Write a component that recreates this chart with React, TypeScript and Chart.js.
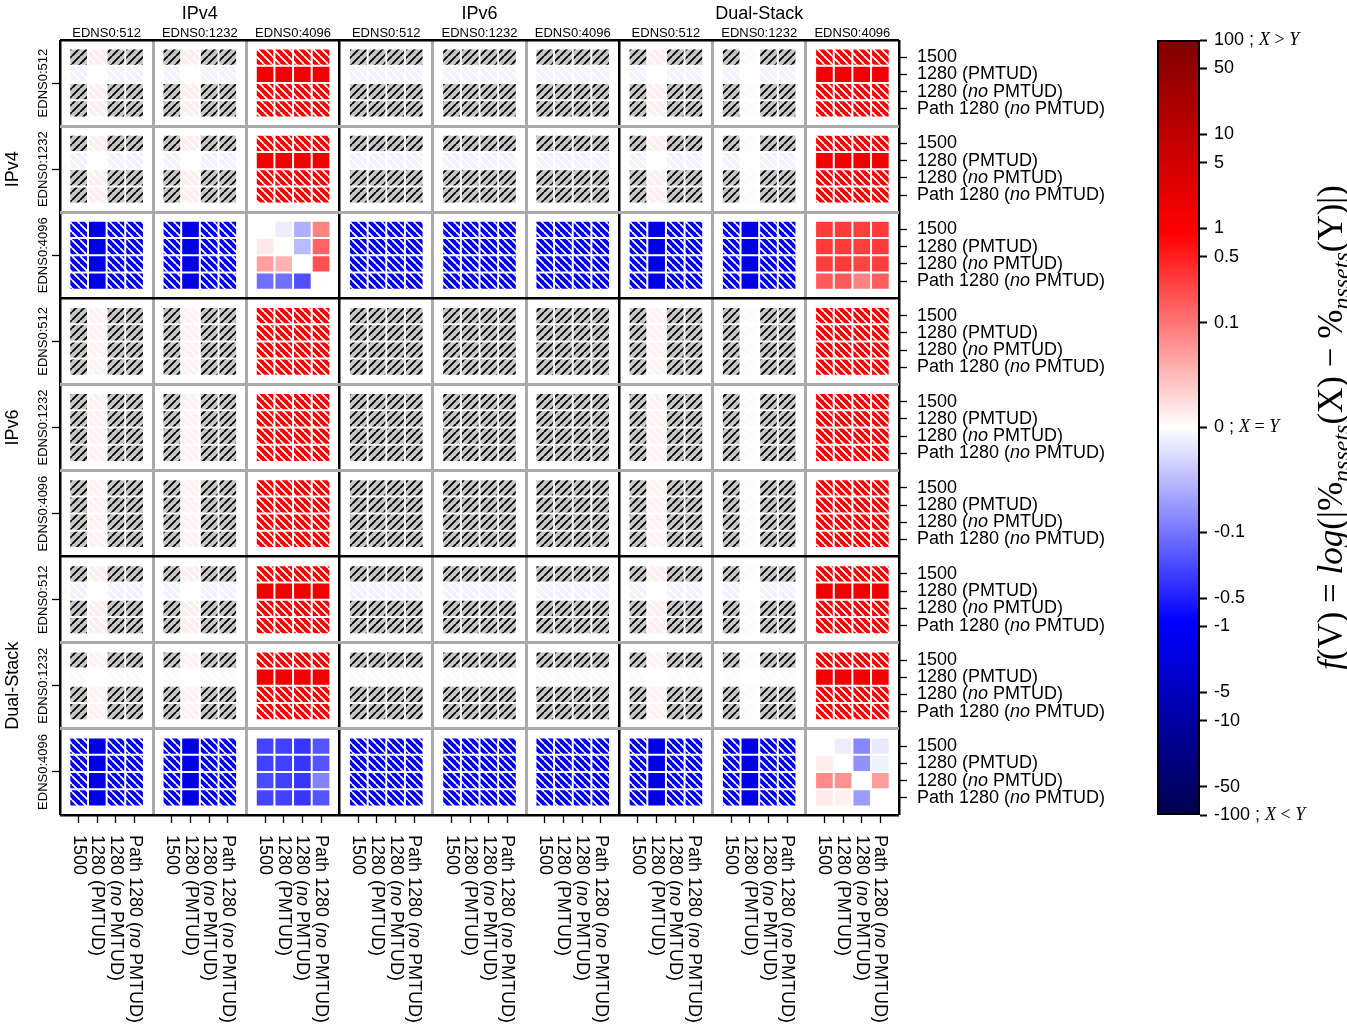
import React, { useEffect, useRef } from 'react';
import { Chart, registerables } from 'chart.js';

Chart.register(...registerables);

const SANS = '"Liberation Sans", Arial, Helvetica, sans-serif';
const SERIF = '"Liberation Serif", "Times New Roman", serif';

// ---------------- data ----------------
const STACKS = ['IPv4', 'IPv6', 'Dual-Stack'];
const EDNS_SIZES = ['EDNS0:512', 'EDNS0:1232', 'EDNS0:4096'];
const MTU_SETTINGS = ['1500', '1280 (PMTUD)', '1280 (no PMTUD)', 'Path 1280 (no PMTUD)'];

// colour-bar ticks (symlog norm)
const CBAR_TICKS = [100, 50, 10, 5, 1, 0.5, 0.1, 0, -0.1, -0.5, -1, -5, -10, -50, -100];
const CBAR_NOTES: Record<string, string[]> = { '100': ['X', '>', 'Y'], '0': ['X', '=', 'Y'], '-100': ['X', '<', 'Y'] };
const LINTHRESH = 0.1;
const LINSCALE = 1;
const VMAX = 100;

// null = no significant difference (grey, '/' hatched)
const _ = null;
// hatch codes: g = grey '/', h = white '\' hatch, s = solid

// rows: IPv4 / EDNS0:512 ; columns: IPv4 512,1232,4096 | IPv6 512,1232,4096 | DS 512,1232,4096
const IPV4_512_VALUES = [
  [_, .012, _, _, _, .012, _, _, .9, .9, .9, .9, _, _, _, _, _, _, _, _, _, _, _, _, _, .012, _, _, _, .004, _, _, .9, .9, .9, .9],
  [-.01, 0, -.01, -.01, -.01, 0, -.01, -.01, 1.5, 1.5, 1.5, 1.5, -.01, -.01, -.01, -.01, -.01, -.01, -.01, -.01, -.01, -.01, -.01, -.01, -.01, 0, -.01, -.01, -.01, 0, -.01, -.01, 1.5, 1.5, 1.5, 1.5],
  [_, .012, _, _, _, .012, _, _, .9, .9, .9, .9, _, _, _, _, _, _, _, _, _, _, _, _, _, .012, _, _, _, .004, _, _, .9, .9, .9, .9],
  [_, .012, _, _, _, .012, _, _, .9, .9, .9, .9, _, _, _, _, _, _, _, _, _, _, _, _, _, .012, _, _, _, .004, _, _, .9, .9, .9, .9],
];
const IPV4_512_HATCH = [
  'ghgg ghgg hhhh gggg gggg gggg ghgg ghgg hhhh',
  'hshh hshh ssss hhhh hhhh hhhh hshh hshh ssss',
  'ghgg ghgg hhhh gggg gggg gggg ghgg ghgg hhhh',
  'ghgg ghgg hhhh gggg gggg gggg ghgg ghgg hhhh',
];

const IPV4_1232_VALUES = [
  [_, .012, _, _, _, .012, _, _, .9, .9, .9, .9, _, _, _, _, _, _, _, _, _, _, _, _, _, .012, _, _, _, .004, _, _, .9, .9, .9, .9],
  [-.01, 0, -.01, -.01, -.01, 0, -.01, -.01, 1.5, 1.5, 1.5, 1.5, -.01, -.01, -.01, -.01, -.01, -.01, -.01, -.01, -.01, -.01, -.01, -.01, -.01, 0, -.01, -.01, -.01, 0, -.01, -.01, 1.5, 1.5, 1.5, 1.5],
  [_, .012, _, _, _, .012, _, _, .9, .9, .9, .9, _, _, _, _, _, _, _, _, _, _, _, _, _, .012, _, _, _, .004, _, _, .9, .9, .9, .9],
  [_, .012, _, _, _, .012, _, _, .9, .9, .9, .9, _, _, _, _, _, _, _, _, _, _, _, _, _, .012, _, _, _, .004, _, _, .9, .9, .9, .9],
];
const IPV4_1232_HATCH = [
  'ghgg ghgg hhhh gggg gggg gggg ghgg ghgg hhhh',
  'hshh hshh ssss hhhh hhhh hhhh hshh hshh ssss',
  'ghgg ghgg hhhh gggg gggg gggg ghgg ghgg hhhh',
  'ghgg ghgg hhhh gggg gggg gggg ghgg ghgg hhhh',
];

const IPV4_4096_VALUES = [
  [-.9, -1.7, -.9, -.9, -.9, -1.7, -.9, -.9, .001, -.013, -.057, .09, -.9, -.9, -.9, -.9, -.9, -.9, -.9, -.9, -.9, -.9, -.9, -.9, -.9, -1.7, -.9, -.9, -.9, -1.7, -.9, -.9, .3, .3, .28, .3],
  [-.9, -1.7, -.9, -.9, -.9, -1.7, -.9, -.9, .017, 0, -.05, .14, -.9, -.9, -.9, -.9, -.9, -.9, -.9, -.9, -.9, -.9, -.9, -.9, -.9, -1.7, -.9, -.9, -.9, -1.7, -.9, -.9, .3, .3, .28, .3],
  [-.9, -1.7, -.9, -.9, -.9, -1.7, -.9, -.9, .07, .055, 0, .2, -.9, -.9, -.9, -.9, -.9, -.9, -.9, -.9, -.9, -.9, -.9, -.9, -.9, -1.7, -.9, -.9, -.9, -1.7, -.9, -.9, .28, .3, .25, .28],
  [-.9, -1.7, -.9, -.9, -.9, -1.7, -.9, -.9, -.11, -.11, -.2, .002, -.9, -.9, -.9, -.9, -.9, -.9, -.9, -.9, -.9, -.9, -.9, -.9, -.9, -1.7, -.9, -.9, -.9, -1.7, -.9, -.9, .17, .17, .09, .16],
];
const IPV4_4096_HATCH = [
  'hshh hshh ssss hhhh hhhh hhhh hshh hshh ssss',
  'hshh hshh ssss hhhh hhhh hhhh hshh hshh ssss',
  'hshh hshh ssss hhhh hhhh hhhh hshh hshh ssss',
  'hshh hshh ssss hhhh hhhh hhhh hshh hshh ssss',
];

const IPV6_512_VALUES = [
  [_, .01, _, _, _, .01, _, _, .9, .9, .9, .9, _, _, _, _, _, _, _, _, _, _, _, _, _, .01, _, _, _, .004, _, _, .9, .9, .9, .9],
  [_, .01, _, _, _, .01, _, _, .9, .9, .9, .9, _, _, _, _, _, _, _, _, _, _, _, _, _, .01, _, _, _, .004, _, _, .9, .9, .9, .9],
  [_, .01, _, _, _, .01, _, _, .9, .9, .9, .9, _, _, _, _, _, _, _, _, _, _, _, _, _, .01, _, _, _, .004, _, _, .9, .9, .9, .9],
  [_, .01, _, _, _, .01, _, _, .9, .9, .9, .9, _, _, _, _, _, _, _, _, _, _, _, _, _, .01, _, _, _, .004, _, _, .9, .9, .9, .9],
];
const IPV6_512_HATCH = [
  'ghgg ghgg hhhh gggg gggg gggg ghgg ghgg hhhh',
  'ghgg ghgg hhhh gggg gggg gggg ghgg ghgg hhhh',
  'ghgg ghgg hhhh gggg gggg gggg ghgg ghgg hhhh',
  'ghgg ghgg hhhh gggg gggg gggg ghgg ghgg hhhh',
];

const IPV6_1232_VALUES = [
  [_, .01, _, _, _, .01, _, _, .9, .9, .9, .9, _, _, _, _, _, _, _, _, _, _, _, _, _, .01, _, _, _, .004, _, _, .9, .9, .9, .9],
  [_, .01, _, _, _, .01, _, _, .9, .9, .9, .9, _, _, _, _, _, _, _, _, _, _, _, _, _, .01, _, _, _, .004, _, _, .9, .9, .9, .9],
  [_, .01, _, _, _, .01, _, _, .9, .9, .9, .9, _, _, _, _, _, _, _, _, _, _, _, _, _, .01, _, _, _, .004, _, _, .9, .9, .9, .9],
  [_, .01, _, _, _, .01, _, _, .9, .9, .9, .9, _, _, _, _, _, _, _, _, _, _, _, _, _, .01, _, _, _, .004, _, _, .9, .9, .9, .9],
];
const IPV6_1232_HATCH = [
  'ghgg ghgg hhhh gggg gggg gggg ghgg ghgg hhhh',
  'ghgg ghgg hhhh gggg gggg gggg ghgg ghgg hhhh',
  'ghgg ghgg hhhh gggg gggg gggg ghgg ghgg hhhh',
  'ghgg ghgg hhhh gggg gggg gggg ghgg ghgg hhhh',
];

const IPV6_4096_VALUES = [
  [_, .01, _, _, _, .01, _, _, .9, .9, .9, .9, _, _, _, _, _, _, _, _, _, _, _, _, _, .01, _, _, _, .004, _, _, .9, .9, .9, .9],
  [_, .01, _, _, _, .01, _, _, .9, .9, .9, .9, _, _, _, _, _, _, _, _, _, _, _, _, _, .01, _, _, _, .004, _, _, .9, .9, .9, .9],
  [_, .01, _, _, _, .01, _, _, .9, .9, .9, .9, _, _, _, _, _, _, _, _, _, _, _, _, _, .01, _, _, _, .004, _, _, .9, .9, .9, .9],
  [_, .01, _, _, _, .01, _, _, .9, .9, .9, .9, _, _, _, _, _, _, _, _, _, _, _, _, _, .01, _, _, _, .004, _, _, .9, .9, .9, .9],
];
const IPV6_4096_HATCH = [
  'ghgg ghgg hhhh gggg gggg gggg ghgg ghgg hhhh',
  'ghgg ghgg hhhh gggg gggg gggg ghgg ghgg hhhh',
  'ghgg ghgg hhhh gggg gggg gggg ghgg ghgg hhhh',
  'ghgg ghgg hhhh gggg gggg gggg ghgg ghgg hhhh',
];

const DS_512_VALUES = [
  [_, .012, _, _, _, .012, _, _, .9, .9, .9, .9, _, _, _, _, _, _, _, _, _, _, _, _, _, .012, _, _, _, .004, _, _, .9, .9, .9, .9],
  [-.01, 0, -.01, -.01, -.01, 0, -.01, -.01, 1.5, 1.5, 1.5, 1.5, -.01, -.01, -.01, -.01, -.01, -.01, -.01, -.01, -.01, -.01, -.01, -.01, -.01, 0, -.01, -.01, -.01, 0, -.01, -.01, 1.5, 1.5, 1.5, 1.5],
  [_, .012, _, _, _, .012, _, _, .9, .9, .9, .9, _, _, _, _, _, _, _, _, _, _, _, _, _, .012, _, _, _, .004, _, _, .9, .9, .9, .9],
  [_, .012, _, _, _, .012, _, _, .9, .9, .9, .9, _, _, _, _, _, _, _, _, _, _, _, _, _, .012, _, _, _, .004, _, _, .9, .9, .9, .9],
];
const DS_512_HATCH = [
  'ghgg ghgg hhhh gggg gggg gggg ghgg ghgg hhhh',
  'hshh hshh ssss hhhh hhhh hhhh hshh hshh ssss',
  'ghgg ghgg hhhh gggg gggg gggg ghgg ghgg hhhh',
  'ghgg ghgg hhhh gggg gggg gggg ghgg ghgg hhhh',
];

const DS_1232_VALUES = [
  [_, .01, _, _, _, .01, _, _, .9, .9, .9, .9, _, _, _, _, _, _, _, _, _, _, _, _, _, .01, _, _, _, .004, _, _, .9, .9, .9, .9],
  [-.004, 0, -.004, -.004, -.004, 0, -.004, -.004, 1.5, 1.5, 1.5, 1.5, -.004, -.004, -.004, -.004, -.004, -.004, -.004, -.004, -.004, -.004, -.004, -.004, -.003, 0, -.003, -.003, -.003, 0, -.003, -.003, 1.5, 1.5, 1.5, 1.5],
  [_, .01, _, _, _, .01, _, _, .9, .9, .9, .9, _, _, _, _, _, _, _, _, _, _, _, _, _, .01, _, _, _, .004, _, _, .9, .9, .9, .9],
  [_, .01, _, _, _, .01, _, _, .9, .9, .9, .9, _, _, _, _, _, _, _, _, _, _, _, _, _, .01, _, _, _, .004, _, _, .9, .9, .9, .9],
];
const DS_1232_HATCH = [
  'ghgg ghgg hhhh gggg gggg gggg ghgg ghgg hhhh',
  'hshh hshh ssss hhhh hhhh hhhh hshh hshh ssss',
  'ghgg ghgg hhhh gggg gggg gggg ghgg ghgg hhhh',
  'ghgg ghgg hhhh gggg gggg gggg ghgg ghgg hhhh',
];

const DS_4096_VALUES = [
  [-.9, -1.7, -.9, -.9, -.9, -1.7, -.9, -.9, -.25, -.27, -.32, -.18, -.9, -.9, -.9, -.9, -.9, -.9, -.9, -.9, -.9, -.9, -.9, -.9, -.9, -1.7, -.9, -.9, -.9, -1.7, -.9, -.9, .001, -.013, -.087, -.015],
  [-.9, -1.7, -.9, -.9, -.9, -1.7, -.9, -.9, -.27, -.27, -.32, -.18, -.9, -.9, -.9, -.9, -.9, -.9, -.9, -.9, -.9, -.9, -.9, -.9, -.9, -1.7, -.9, -.9, -.9, -1.7, -.9, -.9, .012, 0, -.08, -.01],
  [-.9, -1.7, -.9, -.9, -.9, -1.7, -.9, -.9, -.22, -.27, -.32, -.09, -.9, -.9, -.9, -.9, -.9, -.9, -.9, -.9, -.9, -.9, -.9, -.9, -.9, -1.7, -.9, -.9, -.9, -1.7, -.9, -.9, .085, .08, 0, .072],
  [-.9, -1.7, -.9, -.9, -.9, -1.7, -.9, -.9, -.25, -.27, -.32, -.18, -.9, -.9, -.9, -.9, -.9, -.9, -.9, -.9, -.9, -.9, -.9, -.9, -.9, -1.7, -.9, -.9, -.9, -1.7, -.9, -.9, .016, .01, -.072, .001],
];
const DS_4096_HATCH = [
  'hshh hshh ssss hhhh hhhh hhhh hshh hshh ssss',
  'hshh hshh ssss hhhh hhhh hhhh hshh hshh ssss',
  'hshh hshh ssss hhhh hhhh hhhh hshh hshh ssss',
  'hshh hshh ssss hhhh hhhh hhhh hshh hshh ssss',
];

const VALUE_BLOCKS = [IPV4_512_VALUES, IPV4_1232_VALUES, IPV4_4096_VALUES, IPV6_512_VALUES, IPV6_1232_VALUES, IPV6_4096_VALUES, DS_512_VALUES, DS_1232_VALUES, DS_4096_VALUES];
const HATCH_BLOCKS = [IPV4_512_HATCH, IPV4_1232_HATCH, IPV4_4096_HATCH, IPV6_512_HATCH, IPV6_1232_HATCH, IPV6_4096_HATCH, DS_512_HATCH, DS_1232_HATCH, DS_4096_HATCH];

// ---------------- layout (axis units) ----------------
const UNIT = 5; // 4 cells + padding per block
const AXIS_MAX = 45;
const CELL_CENTERS = Array.from({ length: 36 }, (__, i) => Math.floor(i / 4) * UNIT + 1 + (i % 4));
const BLOCK_CENTERS = Array.from({ length: 9 }, (__, i) => i * UNIT + 2.5);
const BLOCK_EDGES = Array.from({ length: 10 }, (__, i) => i * UNIT);
const GROUP_CENTERS = [7.5, 22.5, 37.5];

const GRAY = '#c8c8c8';
const SEISMIC = [[0, 0, 0.3], [0, 0, 1], [1, 1, 1], [1, 0, 0], [0.5, 0, 0]];

function symlogNorm(v: number): number {
  const adj = LINSCALE / (1 - 1 / 10);
  const a = Math.abs(v);
  const t = a <= LINTHRESH ? (a / LINTHRESH) * adj : adj + Math.log10(a / LINTHRESH);
  const total = adj + Math.log10(VMAX / LINTHRESH);
  return (Math.sign(v) * t) / total;
}
function rgbStr(c: number[]) {
  return `rgb(${Math.round(c[0] * 255)},${Math.round(c[1] * 255)},${Math.round(c[2] * 255)})`;
}
function seismic(n: number): string {
  const x = Math.min(1, Math.max(0, n)) * 4;
  const i = Math.min(3, Math.floor(x));
  const f = x - i;
  return rgbStr(SEISMIC[i].map((a, k) => a + (SEISMIC[i + 1][k] - a) * f));
}

const patternCache = new Map<string, CanvasPattern | string>();
function fillFor(ctx: CanvasRenderingContext2D, fill: string, kind: string): CanvasPattern | string {
  if (kind === 's') return fill;
  const key = fill + '|' + kind;
  const hit = patternCache.get(key);
  if (hit) return hit;
  const size = 8;
  const c = document.createElement('canvas');
  c.width = size;
  c.height = size;
  const g = c.getContext('2d')!;
  g.fillStyle = fill;
  g.fillRect(0, 0, size, size);
  g.strokeStyle = kind === 'g' ? '#000' : '#fff';
  g.lineWidth = kind === 'g' ? 1.9 : 1.7;
  g.beginPath();
  for (let k = -1; k <= 1; k++) {
    if (kind === 'g') {
      g.moveTo(k * size, size);
      g.lineTo((k + 1) * size, 0);
    } else {
      g.moveTo(k * size, 0);
      g.lineTo((k + 1) * size, size);
    }
  }
  g.stroke();
  const p = ctx.createPattern(c, 'repeat') || fill;
  patternCache.set(key, p);
  return p;
}

type Seg = { text: string; font: string; dy?: number };
function drawSegs(ctx: CanvasRenderingContext2D, segs: Seg[], x: number, y: number) {
  let cx = x;
  for (const s of segs) {
    ctx.font = s.font;
    ctx.fillText(s.text, cx, y + (s.dy || 0));
    cx += ctx.measureText(s.text).width;
  }
}
function segsWidth(ctx: CanvasRenderingContext2D, segs: Seg[]) {
  let w = 0;
  for (const s of segs) {
    ctx.font = s.font;
    w += ctx.measureText(s.text).width;
  }
  return w;
}
function mtuSegs(label: string, size: number): Seg[] {
  return label
    .split(/\b(no)\b/)
    .filter((t) => t.length)
    .map((t) => ({ text: t, font: `${t === 'no' ? 'italic ' : ''}${size}px ${SANS}` }));
}

const mainLabels = {
  id: 'mainLabels',
  afterDraw(chart: any) {
    const ctx: CanvasRenderingContext2D = chart.ctx;
    const area = chart.chartArea;
    const sx = chart.scales.x;
    const sr = chart.scales.yRight;
    const sy = chart.scales.y;
    const st = chart.scales.xTop;
    ctx.save();
    ctx.fillStyle = '#000';
    // right labels
    ctx.textAlign = 'left';
    ctx.textBaseline = 'middle';
    sr.ticks.forEach((t: any, i: number) => {
      drawSegs(ctx, mtuSegs(MTU_SETTINGS[i % 4], 18), area.right + 18, sr.getPixelForValue(t.value));
    });
    // bottom labels (rotated, reading downwards)
    sx.ticks.forEach((t: any, i: number) => {
      ctx.save();
      ctx.translate(sx.getPixelForValue(t.value), area.bottom + 20);
      ctx.rotate(Math.PI / 2);
      drawSegs(ctx, mtuSegs(MTU_SETTINGS[i % 4], 18), 0, 0);
      ctx.restore();
    });
    // top EDNS labels
    ctx.textAlign = 'center';
    ctx.textBaseline = 'alphabetic';
    ctx.font = `13px ${SANS}`;
    st.ticks.forEach((t: any, i: number) => {
      ctx.fillText(EDNS_SIZES[i % 3], st.getPixelForValue(t.value), area.top - 3);
    });
    ctx.font = `18px ${SANS}`;
    STACKS.forEach((s, g) => ctx.fillText(s, st.getPixelForValue(GROUP_CENTERS[g]), 19));
    // left labels (rotated, reading upwards)
    ctx.textBaseline = 'middle';
    sy.ticks.forEach((t: any, i: number) => {
      ctx.save();
      ctx.translate(43, sy.getPixelForValue(t.value));
      ctx.rotate(-Math.PI / 2);
      ctx.font = `13px ${SANS}`;
      ctx.fillText(EDNS_SIZES[i % 3], 0, 0);
      ctx.restore();
    });
    STACKS.forEach((s, g) => {
      ctx.save();
      ctx.translate(13, sy.getPixelForValue(GROUP_CENTERS[g]));
      ctx.rotate(-Math.PI / 2);
      ctx.font = `18px ${SANS}`;
      ctx.fillText(s, 0, 0);
      ctx.restore();
    });
    ctx.restore();
  },
};

const cbarLabels = {
  id: 'cbarLabels',
  afterDraw(chart: any) {
    const ctx: CanvasRenderingContext2D = chart.ctx;
    const area = chart.chartArea;
    const s = chart.scales.y;
    ctx.save();
    ctx.fillStyle = '#000';
    ctx.textAlign = 'left';
    ctx.textBaseline = 'middle';
    CBAR_TICKS.forEach((v) => {
      const segs: Seg[] = [{ text: String(v), font: `18px ${SANS}` }];
      const note = CBAR_NOTES[String(v)];
      if (note) {
        segs.push({ text: ' ; ', font: `18px ${SANS}` });
        segs.push({ text: note[0], font: `italic 18px ${SERIF}` });
        segs.push({ text: ` ${note[1]} `, font: `18px ${SERIF}` });
        segs.push({ text: note[2], font: `italic 18px ${SERIF}` });
      }
      drawSegs(ctx, segs, area.right + 14, s.getPixelForValue(symlogNorm(v)));
    });
    // colour-bar label
    const big = 35;
    const sub = 24;
    const title: Seg[] = [
      { text: 'f', font: `italic ${big}px ${SERIF}` },
      { text: '(V) = ', font: `${big}px ${SERIF}` },
      { text: 'log', font: `italic ${big}px ${SERIF}` },
      { text: '(|%', font: `${big}px ${SERIF}` },
      { text: 'nssets', font: `italic ${sub}px ${SERIF}`, dy: 7 },
      { text: '(X) − %', font: `${big}px ${SERIF}` },
      { text: 'nssets', font: `italic ${sub}px ${SERIF}`, dy: 7 },
      { text: '(Y)|)', font: `${big}px ${SERIF}` },
    ];
    ctx.textBaseline = 'alphabetic';
    const w = segsWidth(ctx, title);
    ctx.translate(212, (area.top + area.bottom) / 2);
    ctx.rotate(-Math.PI / 2);
    drawSegs(ctx, title, -w / 2, 0);
    ctx.restore();
  },
};

function buildCells(ctx: CanvasRenderingContext2D) {
  const cells: any[] = [];
  VALUE_BLOCKS.forEach((rows, rb) => {
    rows.forEach((row, k) => {
      const hatch = HATCH_BLOCKS[rb][k].replace(/\s/g, '');
      row.forEach((v, c) => {
        const kind = hatch[c];
        const color = v === null ? GRAY : seismic((symlogNorm(v) + 1) / 2);
        const y0 = rb * UNIT + 0.5 + k;
        cells.push({
          x: CELL_CENTERS[c],
          y: [y0, y0 + 1],
          bg: fillFor(ctx, color, kind),
          edge: kind === 'g' ? 'rgba(255,255,255,0.45)' : '#ffffff',
        });
      });
    });
  });
  return cells;
}

const groupLine = (c: any) => (c.tick && c.tick.value % 15 === 0 ? '#000000' : '#aaaaaa');
const groupWidth = (c: any) => (c.tick && c.tick.value % 15 === 0 ? 2.5 : 3);

export default function App() {
  const mainRef = useRef<HTMLCanvasElement>(null);
  const cbRef = useRef<HTMLCanvasElement>(null);

  useEffect(() => {
    const mainCanvas = mainRef.current!;
    const ctx = mainCanvas.getContext('2d')!;
    patternCache.clear();
    const cells = buildCells(ctx);

    const main = new Chart(mainCanvas, {
      type: 'bar',
      data: {
        datasets: [
          {
            data: cells,
            backgroundColor: (c: any) => (c.raw ? c.raw.bg : 'transparent'),
            borderColor: (c: any) => (c.raw ? c.raw.edge : '#fff'),
            borderWidth: 1,
            borderSkipped: false,
            grouped: false,
            barPercentage: 1,
            categoryPercentage: 1,
            inflateAmount: 0,
            xAxisID: 'x',
            yAxisID: 'y',
          } as any,
        ],
      },
      options: {
        responsive: false,
        animation: false,
        events: [],
        layout: { padding: 0 },
        plugins: { legend: { display: false }, tooltip: { enabled: false } },
        scales: {
          x: {
            type: 'linear',
            axis: 'x',
            position: 'bottom',
            min: 0,
            max: AXIS_MAX,
            offset: false,
            afterBuildTicks: (s: any) => {
              s.ticks = CELL_CENTERS.map((value) => ({ value }));
            },
            ticks: { display: false },
            grid: { display: true, offset: false, drawOnChartArea: false, drawTicks: true, tickLength: 8, tickColor: '#000', tickWidth: 1.3 },
            border: { display: false },
            afterFit: (s: any) => {
              s.height = 216;
            },
          },
          xBlocks: {
            type: 'linear',
            axis: 'x',
            position: 'bottom',
            min: 0,
            max: AXIS_MAX,
            offset: false,
            afterBuildTicks: (s: any) => {
              s.ticks = BLOCK_EDGES.map((value) => ({ value }));
            },
            ticks: { display: false },
            grid: { display: true, offset: false, drawOnChartArea: true, drawTicks: false, color: groupLine, lineWidth: groupWidth },
            border: { display: false },
            afterFit: (s: any) => {
              s.height = 0;
            },
          },
          xTop: {
            type: 'linear',
            axis: 'x',
            position: 'top',
            min: 0,
            max: AXIS_MAX,
            offset: false,
            afterBuildTicks: (s: any) => {
              s.ticks = BLOCK_CENTERS.map((value) => ({ value }));
            },
            ticks: { display: false },
            grid: { display: false },
            border: { display: false },
            afterFit: (s: any) => {
              s.height = 40;
            },
          },
          y: {
            type: 'linear',
            axis: 'y',
            position: 'left',
            reverse: true,
            min: 0,
            max: AXIS_MAX,
            afterBuildTicks: (s: any) => {
              s.ticks = BLOCK_CENTERS.map((value) => ({ value }));
            },
            ticks: { display: false },
            grid: { display: true, drawOnChartArea: false, drawTicks: true, tickLength: 8, tickColor: '#000', tickWidth: 1.3 },
            border: { display: false },
            afterFit: (s: any) => {
              s.width = 60;
            },
          },
          yBlocks: {
            type: 'linear',
            axis: 'y',
            position: 'left',
            reverse: true,
            min: 0,
            max: AXIS_MAX,
            afterBuildTicks: (s: any) => {
              s.ticks = BLOCK_EDGES.map((value) => ({ value }));
            },
            ticks: { display: false },
            grid: { display: true, drawOnChartArea: true, drawTicks: false, color: groupLine, lineWidth: groupWidth },
            border: { display: false },
            afterFit: (s: any) => {
              s.width = 0;
            },
          },
          yRight: {
            type: 'linear',
            axis: 'y',
            position: 'right',
            reverse: true,
            min: 0,
            max: AXIS_MAX,
            afterBuildTicks: (s: any) => {
              s.ticks = CELL_CENTERS.map((value) => ({ value }));
            },
            ticks: { display: false },
            grid: { display: true, drawOnChartArea: false, drawTicks: true, tickLength: 8, tickColor: '#000', tickWidth: 1.3 },
            border: { display: false },
            afterFit: (s: any) => {
              s.width = 231;
            },
          },
        } as any,
      },
      plugins: [mainLabels],
    });

    const cb = new Chart(cbRef.current!, {
      type: 'bar',
      data: {
        labels: [''],
        datasets: [
          {
            data: [[-1, 1]],
            backgroundColor: (c: any) => {
              const a = c.chart.chartArea;
              if (!a) return '#fff';
              const g = c.chart.ctx.createLinearGradient(0, a.bottom, 0, a.top);
              SEISMIC.forEach((rgb, i) => g.addColorStop(i / 4, rgbStr(rgb)));
              return g;
            },
            borderColor: '#000',
            borderWidth: 2,
            borderSkipped: false,
            barPercentage: 1,
            categoryPercentage: 1,
            inflateAmount: 0,
          } as any,
        ],
      },
      options: {
        responsive: false,
        animation: false,
        events: [],
        layout: { padding: { left: 27, top: 40, bottom: 216, right: 0 } },
        plugins: { legend: { display: false }, tooltip: { enabled: false } },
        scales: {
          x: { display: false },
          y: {
            type: 'linear',
            position: 'right',
            min: -1,
            max: 1,
            afterBuildTicks: (s: any) => {
              s.ticks = CBAR_TICKS.map((v) => ({ value: symlogNorm(v) }));
            },
            ticks: { display: false },
            grid: { display: true, drawOnChartArea: false, drawTicks: true, tickLength: 7, tickColor: '#000', tickWidth: 2 },
            border: { display: false },
            afterFit: (s: any) => {
              s.width = 147;
            },
          },
        } as any,
      },
      plugins: [cbarLabels],
    });

    return () => {
      main.destroy();
      cb.destroy();
    };
  }, []);

  return (
    <div style={{ position: 'fixed', left: 0, top: 0, width: 1347, height: 1031, background: '#fff', overflow: 'hidden' }}>
      <canvas ref={mainRef} width={1130} height={1031} style={{ position: 'absolute', left: 0, top: 0, width: 1130, height: 1031 }} />
      <canvas ref={cbRef} width={217} height={1031} style={{ position: 'absolute', left: 1130, top: 0, width: 217, height: 1031 }} />
    </div>
  );
}
